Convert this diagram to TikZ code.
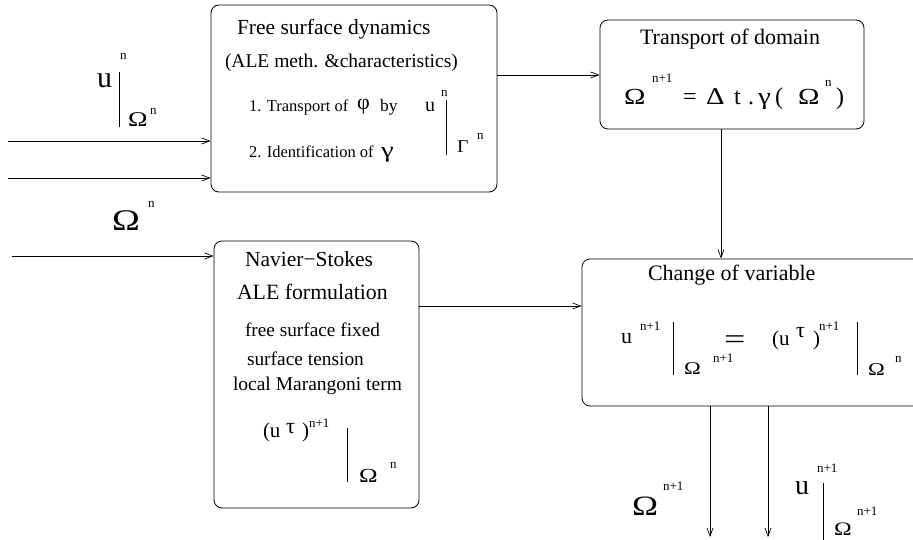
\documentclass[tikz,border=0pt]{standalone}
\usepackage{fontspec}
\setmainfont{Liberation Serif}
\usetikzlibrary{arrows.meta}
\newcommand\myfs[1]{\fontsize{#1}{#1}\selectfont}
\newcommand\myOm{\scalebox{1.25}[1]{Ω}}
\tikzset{
  box/.style={draw, rounded corners=8pt, line width=0.8pt},
  arr/.style={-{Straight Barb[length=8pt,width=6pt]}, line width=0.7pt},
  lbl/.style={anchor=base west, inner sep=0pt, outer sep=0pt},
  fbar/.style={line width=0.7pt},
}
\begin{document}
\begin{tikzpicture}[x=1pt,y=-1pt]
\useasboundingbox (0,0) rectangle (913,540);
% boxes
\node[box, minimum width=286pt, minimum height=187pt] (b1) at (354,98.5) {};
\node[box, minimum width=264pt, minimum height=109pt] (b2) at (732,74.5) {};
\node[box, minimum width=205pt, minimum height=267pt] (b3) at (316.5,374.5) {};
\node[box, minimum width=348pt, minimum height=147pt] (b4) at (756,332.5) {};
% connectors
\coordinate (i1) at (8,141);
\coordinate (i2) at (8,178);
\coordinate (i3) at (12,256);
\coordinate (h1) at (0,75);
\coordinate (v1) at (721,0);
\coordinate (h2) at (0,306);
\coordinate (o1) at (710,537);
\coordinate (o2) at (768,537);
\draw[arr] (i1) -- (i1 -| b1.west);
\draw[arr] (i2) -- (i2 -| b1.west);
\draw[arr] (i3) -- (i3 -| b3.west);
\draw[arr] (h1 -| b1.east) -- (h1 -| b2.west);
\draw[arr] (v1 |- b2.south) -- (v1 |- b4.north);
\draw[arr] (h2 -| b3.east) -- (h2 -| b4.west);
\draw[arr] (o1 |- b4.south) -- (o1);
\draw[arr] (o2 |- b4.south) -- (o2);
% top-left label u^n |_{Omega^n}
\node[lbl] (la1) at (97,88) {\myfs{30}u};
\node[lbl] (la2) at (120,60) {\myfs{13}n};
\draw[fbar] (119,72) -- (119,127);
\node[lbl] (la3) at (128,127) {\myfs{21}\myOm};
\node[lbl] (la4) at (150,115) {\myfs{13}n};
% left Omega^n
\node[lbl] (lb1) at (112,230) {\myfs{30}\myOm};
\node[lbl] (lb2) at (148,208) {\myfs{13}n};
% box 1 text
\node[lbl] (t11) at (237,35) {\myfs{21.5}Free surface dynamics};
\node[lbl] (t12) at (225,68) {\myfs{19.5}(ALE meth. \&characteristics)};
\node[lbl] (t13) at (249,112) {\myfs{16.5}1. Transport of};
\node[lbl] (t14) at (357,110) {\myfs{22}φ};
\node[lbl] (t15) at (380,112) {\myfs{17.5}by};
\node[lbl] (t16) at (425,112) {\myfs{20}u};
\node[lbl] (t17) at (441,97) {\myfs{13}n};
\draw[fbar] (446,100) -- (446,155);
\node[lbl] (t18) at (457,153) {\myfs{18}\scalebox{1.1}[1]{Γ}};
\node[lbl] (t19) at (477,140) {\myfs{13}n};
\node[lbl] (t1a) at (249,158) {\myfs{16.5}2. Identification of};
\node[lbl] (t1b) at (381,158) {\myfs{22}\scalebox{1.3}[1]{γ}};
% box 2 text
\node[lbl] (t21) at (640,45) {\myfs{22}Transport of domain};
\node[lbl] (t22) at (624,105) {\myfs{23}\myOm};
\node[lbl] (t23) at (652,83) {\myfs{13}n+1};
\node[lbl] (t24) at (683,105) {\myfs{24}=};
\node[lbl] (t25) at (706,105) {\myfs{24}\scalebox{1.2}[1]{Δ}};
\node[lbl] (t26) at (734,105) {\myfs{24}t};
\node[lbl] (t27) at (748,105) {\myfs{24}.};
\node[lbl] (t28) at (758,105) {\myfs{24}\scalebox{1.2}[1]{γ}};
\node[lbl] (t29) at (775,105) {\myfs{24}(};
\node[lbl] (t2a) at (798,105) {\myfs{23}\myOm};
\node[lbl] (t2b) at (825,87) {\myfs{13}n};
\node[lbl] (t2c) at (836,105) {\myfs{24})};
% box 3 text
\node[lbl] (t31) at (245,266) {\myfs{21.5}Navier−Stokes};
\node[lbl] (t32) at (237,299) {\myfs{21.8}ALE formulation};
\node[lbl] (t33) at (245,336) {\myfs{19.3}free surface fixed};
\node[lbl] (t34) at (247,365) {\myfs{19.4}surface tension};
\node[lbl] (t35) at (233,390) {\myfs{19.5}local Marangoni term};
\node[lbl] (t36) at (263,437) {\myfs{21}(u};
\node[lbl] (t37) at (286,433) {\myfs{22}τ};
\node[lbl] (t38) at (302,437) {\myfs{21})};
\node[lbl] (t39) at (309,427) {\myfs{13}n+1};
\draw[fbar] (347,428) -- (347,482);
\node[lbl] (t3a) at (359,482) {\myfs{20}\myOm};
\node[lbl] (t3b) at (390,468) {\myfs{13}n};
% box 4 text
\node[lbl] (t41) at (648,280) {\myfs{22}Change of variable};
\node[lbl] (t42) at (621,343) {\myfs{22}u};
\node[lbl] (t43) at (640,330) {\myfs{13}n+1};
\draw[fbar] (673,322) -- (673,375);
\node[lbl] (t44) at (684,374) {\myfs{18}\myOm};
\node[lbl] (t45) at (713,362) {\myfs{13}n+1};
\node[lbl] (t46) at (724,348) {\myfs{28}\scalebox{1.35}[1]{=}};
\node[lbl] (t47) at (772,345) {\myfs{21}(u};
\node[lbl] (t48) at (796,337) {\myfs{22}τ};
\node[lbl] (t49) at (813,345) {\myfs{21})};
\node[lbl] (t4a) at (819,330) {\myfs{13}n+1};
\draw[fbar] (857,322) -- (857,375);
\node[lbl] (t4b) at (868,375) {\myfs{18}\myOm};
\node[lbl] (t4c) at (895,362) {\myfs{13}n};
% bottom labels
\node[lbl] (t51) at (632,515) {\myfs{28}\myOm};
\node[lbl] (t52) at (663,490) {\myfs{13}n+1};
\node[lbl] (t53) at (795,494) {\myfs{28}u};
\node[lbl] (t54) at (817,472) {\myfs{13}n+1};
\draw[fbar] (823,483) -- (823,540);
\node[lbl] (t55) at (834,535) {\myfs{19}\myOm};
\node[lbl] (t56) at (857,515) {\myfs{13}n+1};
\end{tikzpicture}
\end{document}
